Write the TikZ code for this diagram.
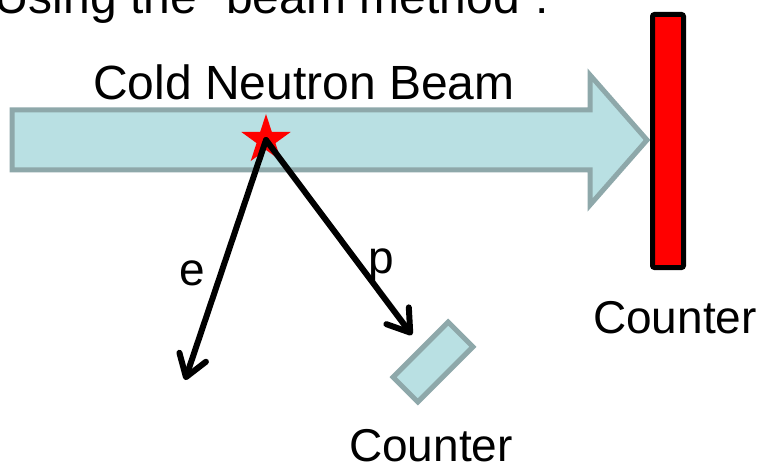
\documentclass[tikz,border=0pt]{standalone}
\usepackage{fontspec}
\setmainfont{Liberation Sans}
\usepackage{tikz}
\usetikzlibrary{arrows.meta,positioning,shapes.geometric}
\definecolor{beamfill}{HTML}{B9E0E3}
\definecolor{beamline}{HTML}{8EA8AA}
\tikzset{
  >={Straight Barb[length=21pt,width=28pt,round]},
  lbl/.style={font=\fontsize{46}{50}\selectfont,inner sep=0pt},
  biglbl/.style={font=\fontsize{48}{52}\selectfont,inner sep=0pt},
  track/.style={->,line width=6pt,line cap=round},
  det/.style={draw=beamline,fill=beamfill,line width=5pt,inner sep=0pt},
}
\begin{document}
\begin{tikzpicture}[x=1pt,y=-1pt]
\useasboundingbox (0,0) rectangle (765,465);
\node[biglbl,anchor=base west] (title) at (-6,14) {Using the "beam method":};
% beam
\filldraw[draw=beamline,fill=beamfill,line width=5pt] (12,110) -- (590,110) -- (590,75) -- (647,140) -- (590,205) -- (590,170) -- (12,170) -- cycle;
\node[biglbl,anchor=base] (beamlbl) at (304,100) {Cold Neutron Beam};
\node[draw=black,fill=red,line width=5pt,rounded corners=2pt,minimum width=31pt,minimum height=253pt,inner sep=0pt] (endcounter) at (668,141) {};
\node[lbl,anchor=base] (endlbl) at (675,333) {Counter};
% decay point and products
\node[star,star points=5,star point ratio=2.618,fill=red,minimum size=52pt,inner sep=0pt] (decay) at (266,140) {};
\coordinate (eend) at (185,380);
\coordinate (pend) at (412,335);
\draw[track] (decay.center) -- (eend);
\draw[track] (decay.center) -- (pend);
\node[lbl,anchor=base] (elbl) at (192,285) {e};
\node[lbl,anchor=base] (plbl) at (381,273) {p};
\node[det,rotate=45,minimum width=78pt,minimum height=35pt] (sidecounter) at (433,362) {};
\node[lbl,anchor=base] (sidelbl) at (431,461) {Counter};
\end{tikzpicture}
\end{document}
